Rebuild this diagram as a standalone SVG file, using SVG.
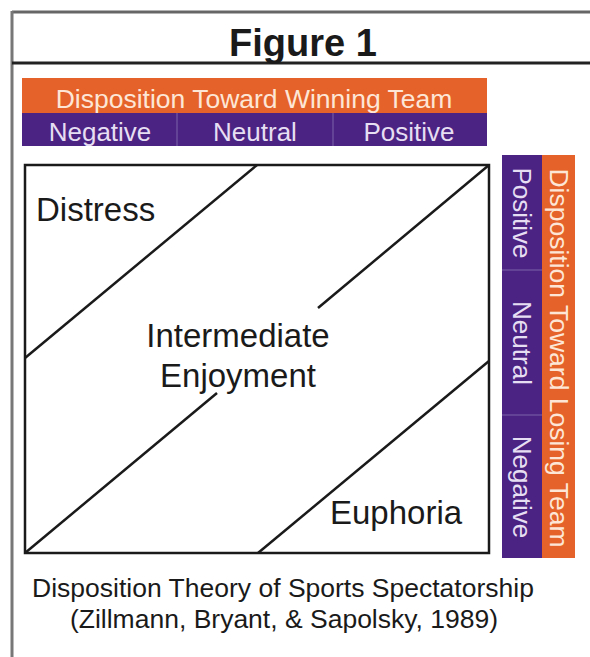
<svg xmlns="http://www.w3.org/2000/svg" width="590" height="657" viewBox="0 0 590 657">
  <style>
    .t { font-family: "Liberation Sans", Arial, sans-serif; }
    .dark { fill: #1a1a1a; }
    .onOrange { fill: #fde6d6; font-size: 26.5px; }
    .onPurple { fill: #e6def2; font-size: 26px; }
    .region { fill: #1a1a1a; font-size: 33px; }
    .cap { fill: #1a1a1a; font-size: 26.5px; }
    .div { stroke: #7b63a8; stroke-width: 1; }
    .diag { stroke: #1a1a1a; stroke-width: 2.5; fill: none; }
  </style>

  <rect width="590" height="657" fill="#ffffff"/>

  <!-- page frame -->
  <g id="frame">
    <line x1="12" y1="12" x2="590" y2="12" stroke="#666" stroke-width="3"/>
    <line x1="12" y1="11" x2="12" y2="657" stroke="#777" stroke-width="3"/>
    <line x1="12" y1="63" x2="590" y2="63" stroke="#222" stroke-width="3"/>
  </g>

  <g id="title">
    <text class="t dark" x="303" y="56" font-size="38" font-weight="bold" text-anchor="middle">Figure 1</text>
  </g>

  <!-- winning-team header -->
  <g id="winning-header">
    <rect x="22" y="78" width="465" height="35" fill="#e5622a"/>
    <rect x="22" y="113" width="465" height="33" fill="#4b2483"/>
    <line class="div" x1="177" y1="113" x2="177" y2="146"/>
    <line class="div" x1="333" y1="113" x2="333" y2="146"/>
    <text class="t onOrange" x="254" y="108" text-anchor="middle">Disposition Toward Winning Team</text>
    <text class="t onPurple" x="100" y="141" text-anchor="middle">Negative</text>
    <text class="t onPurple" x="255" y="141" text-anchor="middle">Neutral</text>
    <text class="t onPurple" x="409" y="141" text-anchor="middle">Positive</text>
  </g>

  <!-- losing-team header (rotated) -->
  <g id="losing-header">
    <rect x="542" y="155" width="33" height="403" fill="#e5622a"/>
    <rect x="502" y="155" width="40" height="403" fill="#4b2483"/>
    <line class="div" x1="502" y1="270" x2="542" y2="270"/>
    <line class="div" x1="502" y1="415" x2="542" y2="415"/>
    <text class="t onOrange" transform="translate(550,358) rotate(90)" text-anchor="middle">Disposition Toward Losing Team</text>
    <text class="t onPurple" transform="translate(513,213) rotate(90)" text-anchor="middle">Positive</text>
    <text class="t onPurple" transform="translate(513,343) rotate(90)" text-anchor="middle">Neutral</text>
    <text class="t onPurple" transform="translate(513,487) rotate(90)" text-anchor="middle">Negative</text>
  </g>

  <!-- outcome grid -->
  <g id="grid">
    <rect x="25" y="165" width="464" height="388" fill="#fff" stroke="#1a1a1a" stroke-width="2.5"/>
  </g>

  <g id="boundaries">
    <line class="diag" x1="257" y1="165" x2="25" y2="358"/>
    <line class="diag" x1="489" y1="165" x2="318" y2="308"/>
    <line class="diag" x1="217" y1="393" x2="25" y2="553"/>
    <line class="diag" x1="489" y1="361" x2="258" y2="553"/>
  </g>

  <g id="distress">
    <text class="t region" x="36" y="221">Distress</text>
  </g>
  <g id="intermediate">
    <text class="t region" x="238" y="347" text-anchor="middle">Intermediate</text>
    <text class="t region" x="238" y="387" text-anchor="middle">Enjoyment</text>
  </g>
  <g id="euphoria">
    <text class="t region" x="330" y="524">Euphoria</text>
  </g>

  <g id="caption">
    <text class="t cap" x="283" y="597" text-anchor="middle">Disposition Theory of Sports Spectatorship</text>
    <text class="t cap" x="284" y="628" text-anchor="middle">(Zillmann, Bryant, &amp; Sapolsky, 1989)</text>
  </g>
</svg>
